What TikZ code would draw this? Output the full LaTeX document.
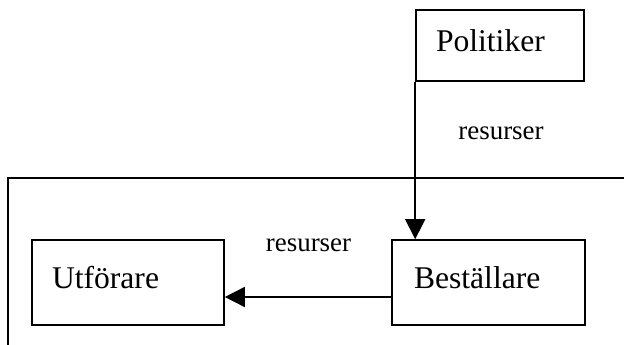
\documentclass[tikz,border=0pt]{standalone}
\usepackage{fontspec}
\setmainfont{Liberation Serif}
\usetikzlibrary{arrows.meta,positioning,calc}

\begin{document}
\begin{tikzpicture}[x=0.75pt, y=-0.75pt, line width=1.2pt,
  box/.style={draw, inner xsep=15pt, inner ysep=0pt, align=left,
    text height=15pt, text depth=6pt, minimum height=63.75pt,
    font=\fontsize{23.7}{28}\selectfont},
  lbl/.style={anchor=base, inner sep=0pt, font=\fontsize{20.2}{24}\selectfont},
  arr/.style={-{Triangle[length=15pt,width=15pt]}}]
\useasboundingbox (0,0) rectangle (624,345);
\node[box, minimum height=53.25pt, text width=96pt] (pol) at (500,45.5) {Politiker};
\node[box, text width=114pt] (utf) at (128,282.5) {Utförare};
\node[box, text width=111.75pt, inner xsep=16.5pt] (best) at (488.5,282.5) {Beställare};
\node[lbl] (resa) at (501,140) {resurser};
\node[lbl] (resb) at (308.5,252) {resurser};
% frame
\draw (8,345) -- (8,178) -- (624,178);
% arrows
\coordinate (mid) at (0,297);
\draw[arr] (pol.south west) -- (pol.south west |- best.north);
\draw[arr] (best.west |- mid) -- (utf.east |- mid);
\end{tikzpicture}
\end{document}
